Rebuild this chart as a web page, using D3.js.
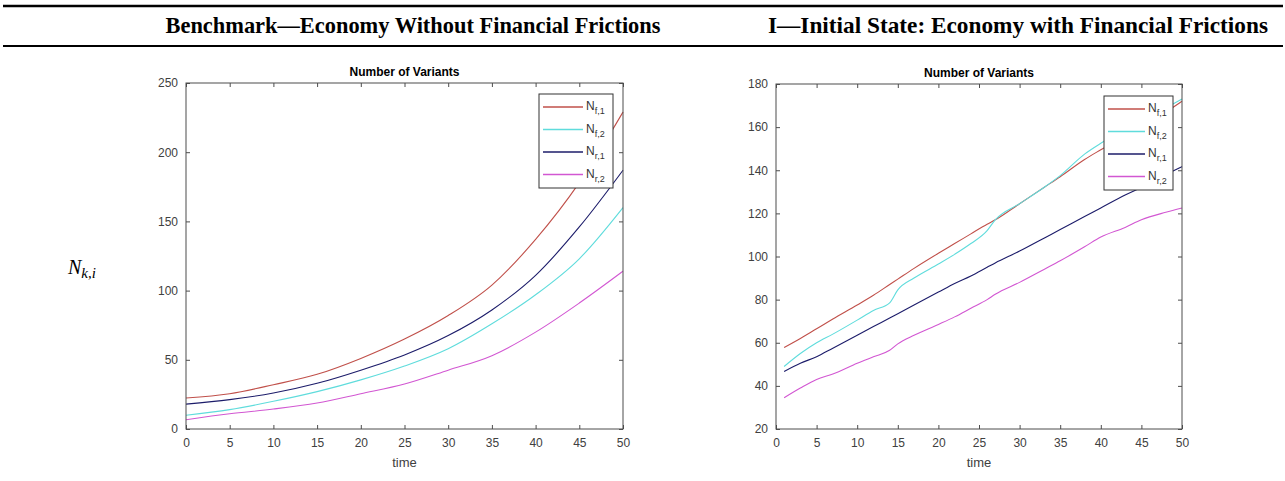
<!DOCTYPE html>
<html>
<head>
<meta charset="utf-8">
<script src="https://cdn.jsdelivr.net/npm/d3@7"></script>
<style>
  html, body { margin: 0; padding: 0; background: #fff; }
  svg { display: block; }
</style>
</head>
<body>
<svg id="fig" width="1285" height="481"></svg>
<script>
// ---- Benchmark economy (no financial frictions) ----
const timeA = [0, 5, 10, 15, 20, 25, 30, 35, 40, 45, 50];
const nf1A = [22.4, 25.5, 32, 39.5, 51, 65, 82, 104, 137, 178, 229];
const nf2A = [9.9, 14, 20, 27, 35.5, 45.5, 58, 76, 97, 123, 160];
const nr1A = [18, 21.2, 26, 33, 42.5, 53.5, 67.5, 86, 111, 146, 187];
const nr2A = [6.7, 11, 14.4, 18.8, 25.5, 32.5, 42.5, 53, 70, 91, 114];

// ---- Initial state (with financial frictions) ----
const timeB = [1, 3, 5, 7, 10, 12, 14, 15, 17, 20, 22, 24, 26, 27, 30, 33, 35, 38, 40, 43, 45, 48, 50];
const nf1B = [57.8, 62, 66.5, 71, 77.5, 82, 87, 89.5, 94.5, 101.5, 106, 110.5, 115, 117, 124.5, 132, 137, 145, 149.5, 156, 161, 167, 172];
const nf2B = [49, 55, 60, 64, 70.5, 75, 78.5, 84.5, 90, 96.5, 101, 106, 112, 117, 124.5, 132, 137.5, 147.5, 152.5, 159, 163, 169, 173];
const nr1B = [46.7, 50.5, 53.5, 57.5, 63.5, 67.5, 71.5, 73.5, 77.5, 83.5, 87.5, 91, 95, 97, 102.5, 108.5, 112.5, 118.5, 122.5, 128.5, 132, 138, 141.7];
const nr2B = [34.5, 39, 43, 45.5, 50.5, 53.5, 56.5, 59.5, 63.5, 68.5, 72, 76, 80, 82.5, 88, 94, 98, 104.5, 109, 113.5, 117, 120.5, 122.5];

const xTicks = [0, 5, 10, 15, 20, 25, 30, 35, 40, 45, 50];
const yTicksA = [0, 50, 100, 150, 200, 250];
const yTicksB = [20, 40, 60, 80, 100, 120, 140, 160, 180];

const headers = ["Benchmark\u2014Economy Without Financial Frictions",
                 "I\u2014Initial State: Economy with Financial Frictions"];
const chartTitle = "Number of Variants";
const xLabel = "time";
const seriesSub = ["f,1", "f,2", "r,1", "r,2"];
const seriesColor = ["#c0504a", "#5fdcdc", "#1c1c6a", "#d257d2"];

const svg = d3.select("#fig");

// Header rules and captions
svg.append("line").attr("x1", 3).attr("x2", 1283).attr("y1", 6).attr("y2", 6)
  .attr("stroke", "#000").attr("stroke-width", 2.5);
svg.append("line").attr("x1", 3).attr("x2", 1283).attr("y1", 46).attr("y2", 46)
  .attr("stroke", "#000").attr("stroke-width", 2);

const headerX = [413, 1018];
const headerW = [495, 500];
headers.forEach((h, i) => {
  svg.append("text")
    .attr("x", headerX[i]).attr("y", 33)
    .attr("text-anchor", "middle")
    .attr("font-family", "'Liberation Serif', 'Times New Roman', serif")
    .attr("font-weight", "bold")
    .attr("font-size", 22.5)
    .attr("textLength", headerW[i])
    .attr("lengthAdjust", "spacingAndGlyphs")
    .attr("fill", "#000")
    .text(h);
});

// Row label N_{k,i}
const rowLab = svg.append("text")
  .attr("x", 68).attr("y", 274)
  .attr("font-family", "'Liberation Serif', 'Times New Roman', serif")
  .attr("font-style", "italic")
  .attr("font-size", 20)
  .attr("fill", "#000");
rowLab.append("tspan").text("N");
rowLab.append("tspan").attr("dy", 4).attr("font-size", 15).text("k,i");

function drawPanel(box, times, series, yDomain, yTicks) {
  const x = d3.scaleLinear().domain([0, 50]).range([box.left, box.right]);
  const y = d3.scaleLinear().domain(yDomain).range([box.bottom, box.top]);
  const g = svg.append("g");
  const axisColor = "#4d4d4d";
  const font = "'Liberation Sans', Arial, Helvetica, sans-serif";

  // series
  const line = d3.line()
    .x(d => x(d[0])).y(d => y(d[1]))
    .curve(d3.curveMonotoneX);
  series.forEach((vals, k) => {
    g.append("path")
      .datum(times.map((t, j) => [t, vals[j]]))
      .attr("d", line)
      .attr("fill", "none")
      .attr("stroke", seriesColor[k])
      .attr("stroke-width", 1.1);
  });

  // axes: ticks inward on all four sides
  const tickLen = 4;
  const xb = d3.axisBottom(x).tickValues(xTicks).tickSizeInner(-tickLen).tickSizeOuter(0).tickPadding(9);
  const xt = d3.axisTop(x).tickValues(xTicks).tickSizeInner(-tickLen).tickSizeOuter(0).tickFormat("");
  const yl = d3.axisLeft(y).tickValues(yTicks).tickSizeInner(-tickLen).tickSizeOuter(0).tickPadding(8);
  const yr = d3.axisRight(y).tickValues(yTicks).tickSizeInner(-tickLen).tickSizeOuter(0).tickFormat("");

  const axes = [
    g.append("g").attr("transform", `translate(0,${box.bottom})`).call(xb),
    g.append("g").attr("transform", `translate(0,${box.top})`).call(xt),
    g.append("g").attr("transform", `translate(${box.left},0)`).call(yl),
    g.append("g").attr("transform", `translate(${box.right},0)`).call(yr)
  ];
  axes.forEach(a => {
    a.select(".domain").remove();
    a.selectAll("line").attr("stroke", axisColor);
    a.selectAll("text").attr("fill", "#404040").attr("font-size", 12).attr("font-family", font);
  });

  // box frame
  g.append("rect")
    .attr("x", box.left).attr("y", box.top)
    .attr("width", box.right - box.left).attr("height", box.bottom - box.top)
    .attr("fill", "none").attr("stroke", axisColor).attr("stroke-width", 1);

  // title and x label
  g.append("text")
    .attr("x", (box.left + box.right) / 2).attr("y", box.top - 7)
    .attr("text-anchor", "middle")
    .attr("font-family", font).attr("font-weight", "bold").attr("font-size", 12)
    .attr("fill", "#000").text(chartTitle);
  g.append("text")
    .attr("x", (box.left + box.right) / 2).attr("y", box.bottom + 38)
    .attr("text-anchor", "middle")
    .attr("font-family", font).attr("font-size", 13)
    .attr("fill", "#404040").text(xLabel);

  // legend
  const lg = g.append("g");
  lg.append("rect")
    .attr("x", box.legend.x).attr("y", box.legend.y)
    .attr("width", box.legend.w).attr("height", box.legend.h)
    .attr("fill", "#fff").attr("stroke", "#333").attr("stroke-width", 1);
  seriesSub.forEach((s, k) => {
    const ly = box.legend.y + 13 + k * 22.5;
    lg.append("line")
      .attr("x1", box.legend.x + 4).attr("x2", box.legend.x + box.legend.lineW)
      .attr("y1", ly).attr("y2", ly)
      .attr("stroke", seriesColor[k]).attr("stroke-width", 1.3);
    const t = lg.append("text")
      .attr("x", box.legend.x + box.legend.lineW + 3).attr("y", ly + 3)
      .attr("font-family", font).attr("font-size", 12).attr("fill", "#333");
    t.append("tspan").text("N");
    t.append("tspan").attr("dy", 4).attr("font-size", 9).text(s);
  });
}

drawPanel({left: 186, right: 623, top: 83, bottom: 429,
           legend: {x: 539, y: 94, w: 74, h: 94, lineW: 44}},
          timeA, [nf1A, nf2A, nr1A, nr2A], [0, 250], yTicksA);
drawPanel({left: 776, right: 1182, top: 84, bottom: 429,
           legend: {x: 1104, y: 96, w: 69, h: 94, lineW: 41}},
          timeB, [nf1B, nf2B, nr1B, nr2B], [20, 180], yTicksB);
</script>
</body>
</html>
